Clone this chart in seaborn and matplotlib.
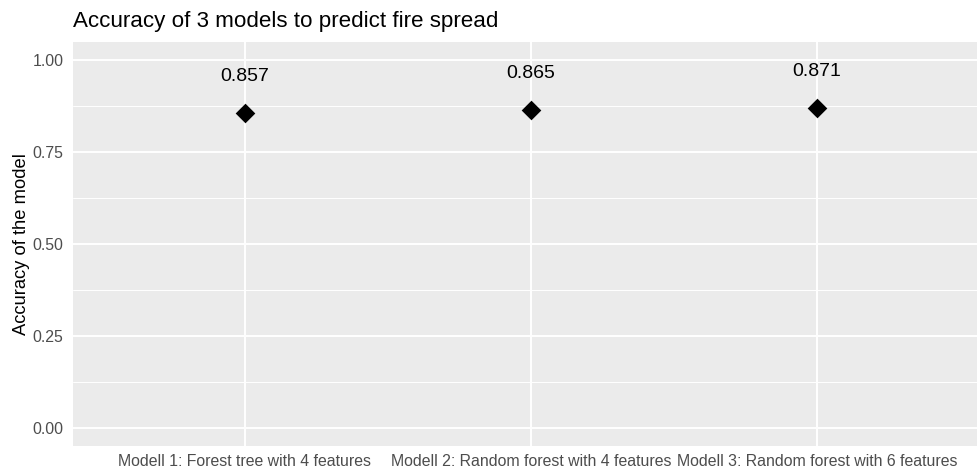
import matplotlib
matplotlib.use("Agg")
import matplotlib.pyplot as plt
import seaborn as sns
import pandas as pd
from matplotlib.ticker import MultipleLocator

# Model accuracies
models = [
    "Modell 1: Forest tree with 4 features",
    "Modell 2: Random forest with 4 features",
    "Modell 3: Random forest with 6 features",
]
accuracy = [0.857, 0.865, 0.871]
y_ticks = [0.00, 0.25, 0.50, 0.75, 1.00]
y_tick_labels = ["0.00", "0.25", "0.50", "0.75", "1.00"]

df = pd.DataFrame({"model": models, "accuracy": accuracy})

sns.set_theme(style="darkgrid")
plt.rcParams["font.family"] = ["Liberation Sans", "DejaVu Sans"]

W, H = 977, 470
fig = plt.figure(figsize=(W / 100, H / 100), dpi=100)
ax = fig.add_axes([73 / W, 24 / H, (988.6 - 73) / W, (446 - 42) / H])

sns.stripplot(data=df, x="model", y="accuracy", jitter=False, marker="D",
              size=10, color="black", ax=ax, zorder=3)

# value labels above each point
for i, v in enumerate(accuracy):
    ax.text(i, v + 0.1, f"{v:.3f}", ha="center", va="center",
            fontsize=14, color="black")

ax.set_facecolor("#EBEBEB")
ax.set_xlim(-0.6, 2.6)
ax.set_ylim(-0.05, 1.05)
ax.set_yticks(y_ticks)
ax.set_yticklabels(y_tick_labels)
ax.yaxis.set_minor_locator(MultipleLocator(0.125))
ax.grid(True, which="major", color="white", linewidth=1.4)
ax.grid(True, which="minor", axis="y", color="white", linewidth=0.7)
ax.set_axisbelow(True)
for s in ax.spines.values():
    s.set_visible(False)

ax.tick_params(axis="both", which="major", length=2.9, width=0.9, color="#333333",
               labelsize=11.4, labelcolor="#4D4D4D", pad=4)
ax.tick_params(axis="x", which="major", pad=3)
ax.tick_params(axis="both", which="minor", length=0)
ax.set_xlabel("")
ax.set_ylabel("")

fig.text(22 / W, 1 - 244 / H, "Accuracy of the model", rotation=90,
         fontsize=13.2, color="black", ha="center", va="center")
fig.text(73 / W, 1 - 26.7 / H, "Accuracy of 3 models to predict fire spread",
         fontsize=16.1, color="black", ha="left", va="baseline")

fig.savefig("out.png", dpi=100)
